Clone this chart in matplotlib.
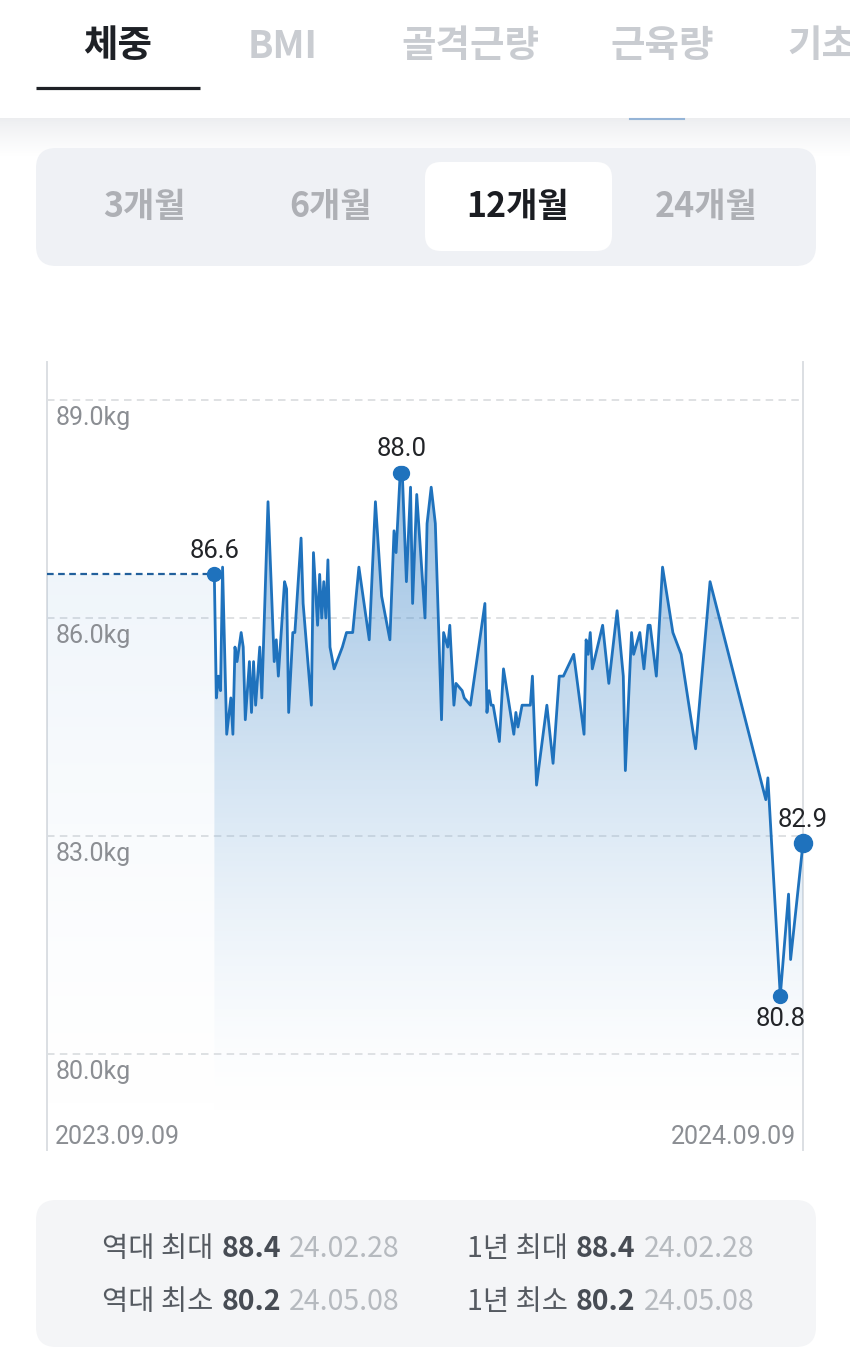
import numpy as np
import matplotlib
matplotlib.use("Agg")
import matplotlib.pyplot as plt
from matplotlib.patches import FancyBboxPatch, Polygon
from matplotlib.colors import LinearSegmentedColormap

plt.rcParams['font.family'] = ['Noto Sans CJK KR', 'DejaVu Sans']

# 상단 탭 / 기간 선택
tabs = ["체중", "BMI", "골격근량", "근육량", "기초"]
periods = ["3개월", "6개월", "12개월", "24개월"]
active_period = "12개월"

# 체중 기록 (2023.09.09 부터 경과일, kg)
days = [81, 82, 83, 84, 85, 87, 89, 90, 91, 92, 94, 95, 96, 98, 99, 100, 101, 103, 104, 107,
        110, 111, 112, 115, 116, 117, 119, 120, 123, 124, 128, 129, 131, 132, 133, 134, 135, 136,
        137, 139, 143, 145, 148, 151, 156, 159, 162, 166, 168, 169, 171, 172, 174, 176, 177, 179,
        183, 184, 186, 188, 191, 192, 194, 195, 197, 198, 201, 202, 205, 212, 213, 214, 215, 216,
        219, 221, 226, 227, 228, 230, 234, 235, 237, 242, 245, 248, 250, 255, 260, 261, 262, 263,
        264, 269, 272, 276, 279, 280, 283, 284, 287, 289, 291, 292, 295, 298, 303, 307, 314, 321,
        348, 349, 355, 359, 360, 366]
weights = [86.6, 84.9, 85.2, 85.0, 86.7, 84.4, 84.9, 84.4, 85.6, 85.4, 85.8, 85.6, 84.6, 85.4,
           84.7, 85.4, 84.8, 85.6, 84.9, 87.6, 85.4, 85.7, 85.2, 86.5, 86.4, 84.7, 85.8, 85.8,
           87.1, 86.2, 84.8, 86.9, 85.9, 86.6, 86.0, 86.5, 86.0, 86.8, 85.6, 85.3, 85.6, 85.8,
           85.8, 86.7, 85.7, 87.6, 86.3, 85.7, 87.2, 86.9, 88.0, 88.0, 86.5, 87.8, 86.2, 87.7,
           86.0, 87.3, 87.8, 87.3, 84.6, 85.8, 85.6, 85.9, 84.8, 85.1, 85.0, 84.9, 84.8, 86.2,
           84.7, 85.0, 84.8, 84.8, 84.3, 85.3, 84.4, 84.7, 84.5, 84.8, 84.8, 85.2, 83.7, 84.8,
           84.0, 85.2, 85.2, 85.5, 84.4, 85.7, 85.5, 85.8, 85.3, 85.9, 85.1, 86.1, 85.2, 83.9,
           85.8, 85.5, 85.8, 85.3, 85.9, 85.9, 85.2, 86.7, 85.8, 85.5, 84.2, 86.5, 83.5, 83.8,
           80.8, 82.2, 81.3, 82.9]

total_days = 366
y_ticks = [80.0, 83.0, 86.0, 89.0]
date_labels = ["2023.09.09", "2024.09.09"]

stats = [
    [("역대 최대", "88.4", "24.02.28"), ("1년 최대", "88.4", "24.02.28")],
    [("역대 최소", "80.2", "24.05.08"), ("1년 최소", "80.2", "24.05.08")],
]

LINE = "#1f72bd"
NUM_FONT = ["Roboto", "DejaVu Sans"]
W, H = 850, 1353

fig = plt.figure(figsize=(W / 100, H / 100), dpi=100)
fig.patch.set_facecolor("white")

# 배경용 축 (픽셀 좌표)
bg = fig.add_axes([0, 0, 1, 1], zorder=0)
bg.set_xlim(0, W)
bg.set_ylim(H, 0)
bg.axis("off")

# 탭
tab_x = [118, 283, 470, 662, 787]
for i, (t, x) in enumerate(zip(tabs, tab_x)):
    bg.text(x, 46, t, ha="left" if i == len(tabs) - 1 else "center", va="center",
            fontsize=27, fontweight="bold", color="#1e2126" if i == 0 else "#c9ccd1")
bg.plot([36, 200], [88, 88], color="#1e2126", lw=2.3, solid_capstyle="butt")
bg.plot([630, 684], [118.5, 118.5], color="#5b8fc7", lw=1.5, alpha=0.6)

# 헤더 아래 그림자
shade = np.linspace(0, 1, 64)
grad = np.ones((64, 1, 3))
for c, v in enumerate([0.925, 0.93, 0.94]):
    grad[:, 0, c] = v + (1 - v) * shade ** 0.8
bg.imshow(grad, extent=[0, W, 156, 118], origin="upper", aspect="auto", zorder=0)

# 기간 선택
bg.add_patch(FancyBboxPatch((36, 148), 780, 118, boxstyle="round,pad=0,rounding_size=20",
                            fc="#eff1f5", ec="none", zorder=1))
bg.add_patch(FancyBboxPatch((425, 162), 187, 89, boxstyle="round,pad=0,rounding_size=16",
                            fc="white", ec="none", zorder=2))
for p, x in zip(periods, [144, 331, 518, 706]):
    bg.text(x, 207, p, ha="center", va="center", fontsize=24.5, fontweight="bold", zorder=3,
            color="#1b1d22" if p == active_period else "#aeb0b5")

# 통계 박스
bg.add_patch(FancyBboxPatch((36, 1200), 780, 147, boxstyle="round,pad=0,rounding_size=20",
                            fc="#f4f5f7", ec="none", zorder=1))
renderer = fig.canvas.get_renderer()
for row, y in zip(stats, [1249, 1302]):
    for (label, val, date), x in zip(row, [102, 467]):
        parts = [(label, dict(color="#555a61", fontweight="normal")),
                 (val, dict(color="#474c54", fontweight="bold")),
                 (date, dict(color="#b6babf", fontweight="light"))]
        for txt, kw in parts:
            t = bg.text(x, y, txt, ha="left", va="center", fontsize=20.5, zorder=3, **kw)
            x += t.get_window_extent(renderer).width + 8

# 차트
ppk = 654 / 9.0
y_lo = 89 - (1150 - 400) / ppk
y_hi = 89 + (400 - 362) / ppk
ax = fig.add_axes([47 / W, (H - 1150) / H, 756 / W, 788 / H], zorder=1)
ax.patch.set_alpha(0)
for s in ax.spines.values():
    s.set_visible(False)
ax.set_xticks([])
ax.set_yticks([])

x0 = days[0]
y0 = weights[0]

# 그라데이션 채우기
def grad_fill(verts, top_alpha, xs):
    patch = Polygon(verts, closed=True, fc="none", ec="none")
    ax.add_patch(patch)
    cmap = LinearSegmentedColormap.from_list("f", [(1, 1, 1, 0), (0.12, 0.45, 0.75, top_alpha)])
    g = np.linspace(0, 1, 256).reshape(-1, 1) ** 0.7
    im = ax.imshow(g, extent=[xs[0], xs[1], 79.2, 88.1], origin="lower", cmap=cmap,
                   vmin=0, vmax=1, aspect="auto", zorder=1, interpolation="bilinear")
    im.set_clip_path(patch)

grad_fill([(x0, y_lo)] + list(zip(days, weights)) + [(days[-1], y_lo)], 0.47, (x0, days[-1]))
grad_fill([(0, y_lo), (0, y0), (x0, y0), (x0, y_lo)], 0.09, (0, x0))

for v in y_ticks:
    ax.axhline(v, color="#d9dbde", lw=1.2, ls=(0, (4.5, 3.2)), zorder=0)
    ax.text(0.011, v - 0.25, f"{v:.1f}kg", transform=ax.get_yaxis_transform(),
            ha="left", va="center", fontsize=18, color="#8b8e93", family=NUM_FONT)
for xv in (0, total_days):
    ax.axvline(xv, color="#dcdfe3", lw=1.4, zorder=0, clip_on=False)

ax.plot([0, x0], [y0, y0], color="#22609c", lw=1.6, ls=(0, (3, 2)), zorder=3)
ax.plot(days, weights, color=LINE, lw=2.0, zorder=4, clip_on=False)

# 표시 지점
imax = int(np.argmax(weights))
imin = int(np.argmin(weights))
max_idx = [i for i, w in enumerate(weights) if w == weights[imax]]
marks = [([0], 10, 1), (max_idx, 10, 1), ([imin], 10, -1), ([len(days) - 1], 13, 1)]
for idx, ms, side in marks:
    for i in idx:
        ax.plot(days[i], weights[i], "o", color=LINE, ms=ms, zorder=5, clip_on=False)
    xm = np.mean([days[i] for i in idx])
    ym = weights[idx[0]]
    ax.text(xm, ym + side * 0.32, f"{ym:.1f}", ha="center", va="center", fontsize=18.5,
            color="#222428", family=NUM_FONT, zorder=6)

ax.text(0.011, 0.016, date_labels[0], transform=ax.transAxes, ha="left", va="center",
        fontsize=18, color="#8b8e93", family=NUM_FONT)
ax.text(0.991, 0.016, date_labels[1], transform=ax.transAxes, ha="right", va="center",
        fontsize=18, color="#8b8e93", family=NUM_FONT)

ax.set_xlim(0, total_days)
ax.set_ylim(y_lo, y_hi)

fig.savefig("out.png", dpi=100)
